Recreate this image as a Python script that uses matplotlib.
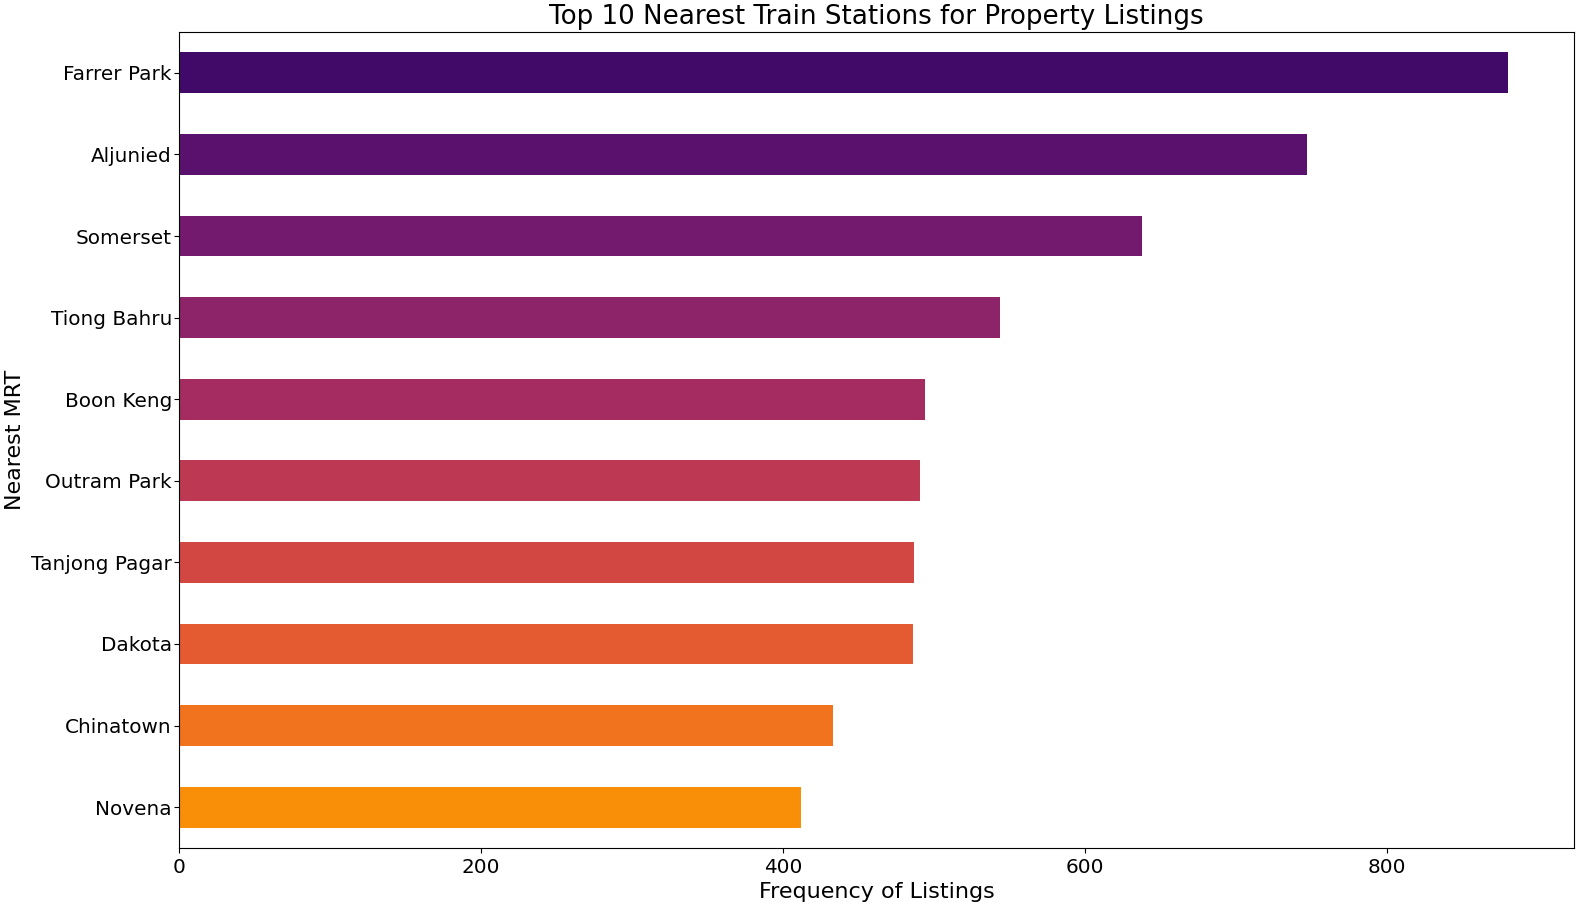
import matplotlib
matplotlib.use("Agg")
import matplotlib.pyplot as plt
import numpy as np

# top 10 stations (value counts, largest first)
stations = ["Farrer Park", "Aljunied", "Somerset", "Tiong Bahru", "Boon Keng",
            "Outram Park", "Tanjong Pagar", "Dakota", "Chinatown", "Novena"]
counts = [880, 747, 638, 544, 494, 491, 487, 486, 433, 412]

colors = plt.cm.inferno(np.linspace(0.2, 0.75, len(stations)))

fig, ax = plt.subplots(figsize=(15.81, 9.05), dpi=100)
fig.subplots_adjust(left=0.1132, right=0.9956, top=0.9646, bottom=0.063)

y = np.arange(len(stations))
ax.barh(y, counts, height=0.5, color=colors)
ax.set_yticks(y)
ax.set_yticklabels(stations)
ax.set_ylim(len(stations) - 0.5, -0.5)  # largest on top

ax.set_title("Top 10 Nearest Train Stations for Property Listings", fontsize=18.8)
ax.set_xlabel("Frequency of Listings", fontsize=16)
ax.set_ylabel("Nearest MRT", fontsize=16)
ax.tick_params(axis="both", labelsize=14.4)
ax.tick_params(axis="y", pad=1.6)

plt.savefig("out.png")
